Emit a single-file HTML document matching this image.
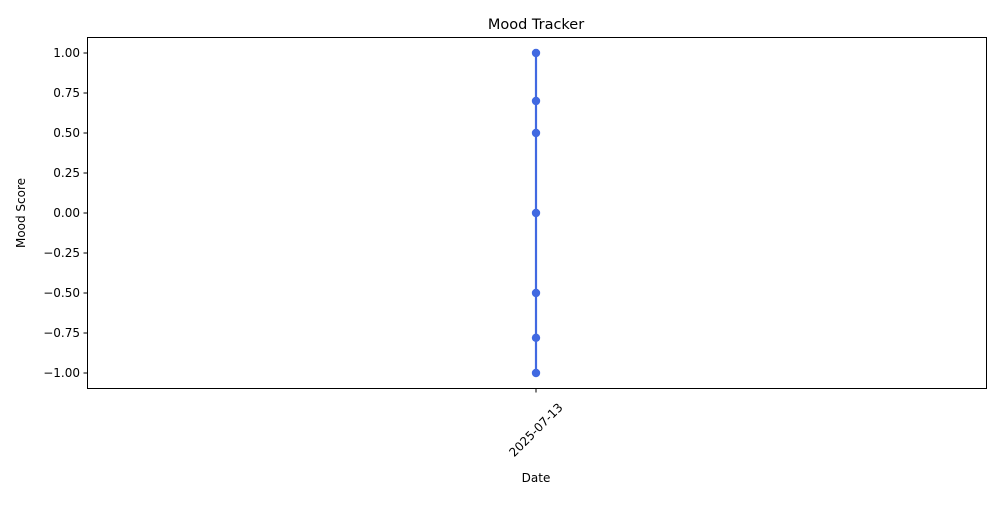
<!DOCTYPE html>
<html><head><meta charset="utf-8"><style>
body{margin:0;background:#fff;font-family:"Liberation Sans","DejaVu Sans",sans-serif;}
svg text{font-family:"DejaVu Sans","Liberation Sans",sans-serif;}
</style></head><body>
<svg id="chart" width="1000" height="500" xmlns="http://www.w3.org/2000/svg">
<rect width="1000" height="500" fill="#fff"/>
<text x="536" y="29" font-size="14.5" text-anchor="middle" fill="#000">Mood Tracker</text>
<rect x="87.5" y="37.5" width="899" height="351" fill="none" stroke="#000" stroke-width="1"/>
<g id="yticks"></g>
<g id="xticks"></g>
<text transform="translate(25,213) rotate(-90)" font-size="12" text-anchor="middle">Mood Score</text>
<text x="536" y="482" font-size="12" text-anchor="middle">Date</text>
<g id="series"></g>
</svg>
<script>
const categories = ["2025-07-13"];
const dates = ["2025-07-13","2025-07-13","2025-07-13","2025-07-13","2025-07-13","2025-07-13","2025-07-13"];
const moodScores = [1.0, 0.7, 0.5, 0.0, -0.5, -0.78, -1.0];
const yTickValues = [1.0, 0.75, 0.5, 0.25, 0.0, -0.25, -0.5, -0.75, -1.0];
const yTickLabels = ["1.00","0.75","0.50","0.25","0.00","\u22120.25","\u22120.50","\u22120.75","\u22121.00"];

const NS = "http://www.w3.org/2000/svg";
function yScale(v){ return 213 - v * 160; }
function xScale(d){ const i = categories.indexOf(d); return 536 + i * 100; }
function mk(tag, attrs, parent){ const e = document.createElementNS(NS, tag); for (const k in attrs) e.setAttribute(k, attrs[k]); parent.appendChild(e); return e; }

const yg = document.getElementById("yticks");
yTickValues.forEach((v, i) => {
  const y = yScale(v);
  const t = mk("line", {x1: 83.5, x2: 87.5, y1: y, y2: y, stroke: "#000"}, yg);
  
  
  const l = mk("text", {x: 80, y: y + 4, "font-size": 12, "text-anchor": "end"}, yg);
  l.textContent = yTickLabels[i];
  
  
});

const xg = document.getElementById("xticks");
categories.forEach(c => {
  const x = xScale(c);
  const t = mk("line", {x1: x, x2: x, y1: 388.5, y2: 392.5, stroke: "#000"}, xg);
  
  
  const l = mk("text", {transform: `translate(${x},${430}) rotate(-45)`, y: 4, "font-size": 12, "text-anchor": "middle"}, xg);
  l.textContent = c;
  
  
});

const sg = document.getElementById("series");
const pts = moodScores.map((v, i) => xScale(dates[i]) + "," + yScale(v)).join(" ");
const line = mk("polyline", {points: pts, fill: "none", stroke: "#4169e1", "stroke-width": 2.2}, sg);


moodScores.forEach((v, i) => {
  const c = mk("circle", {cx: xScale(dates[i]), cy: yScale(v), r: 4.2, fill: "#4169e1"}, sg);
  
  
});
</script>
</body></html>
